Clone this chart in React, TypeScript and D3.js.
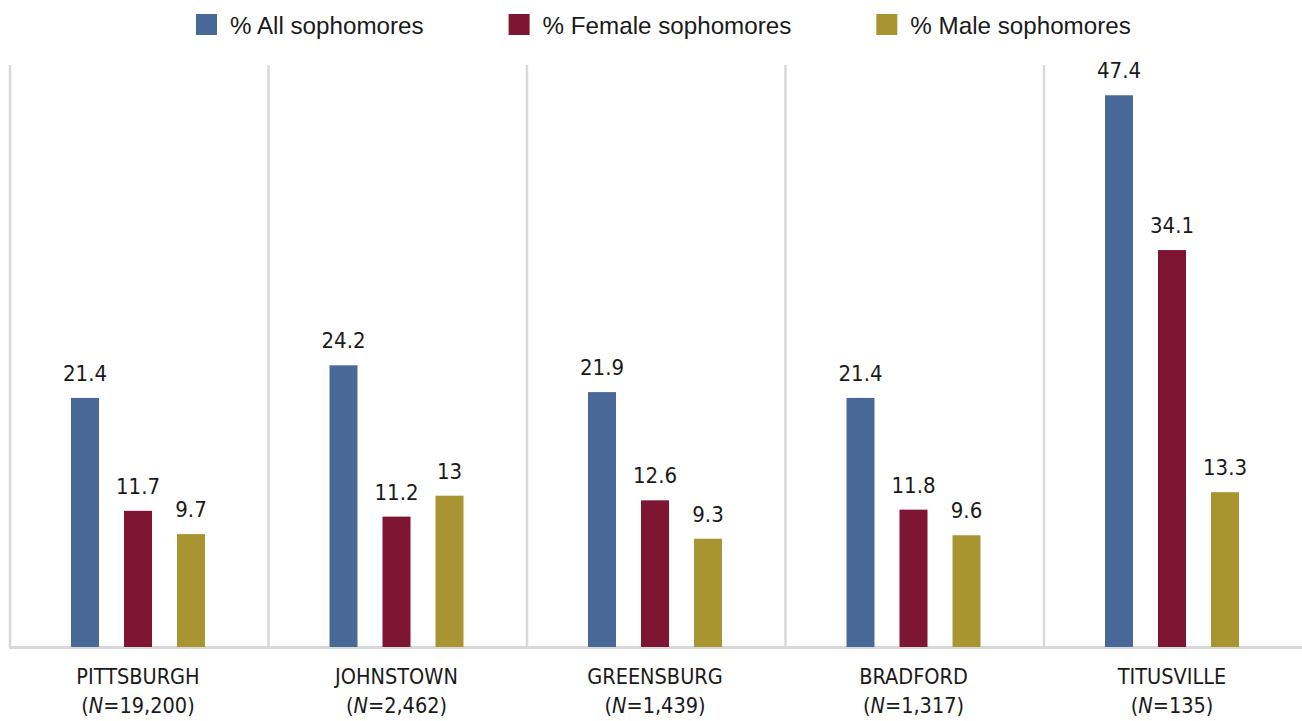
import React, { useEffect, useRef } from 'react';
import * as d3 from 'd3';

const campuses = ['PITTSBURGH', 'JOHNSTOWN', 'GREENSBURG', 'BRADFORD', 'TITUSVILLE'];
const sampleSizes = ['19,200', '2,462', '1,439', '1,317', '135'];
const seriesNames = ['% All sophomores', '% Female sophomores', '% Male sophomores'];
const allValues = [21.4, 24.2, 21.9, 21.4, 47.4];
const femaleValues = [11.7, 11.2, 12.6, 11.8, 34.1];
const maleValues = [9.7, 13, 9.3, 9.6, 13.3];
const seriesColors = ['#486997', '#7e1532', '#a89532'];

const W = 1302;
const H = 721;
const NARROW = '"Liberation Sans Narrow", "Arial Narrow", "DejaVu Sans Condensed", sans-serif';
const SANS = '"Liberation Sans", Arial, sans-serif';

export default function App() {
  const ref = useRef<SVGSVGElement>(null);

  useEffect(() => {
    const svg = d3.select(ref.current);
    svg.selectAll('*').remove();

    const left = 10, right = 1302.5, top = 65, base = 647;
    const x = d3.scaleBand().domain(campuses).range([left, right]).padding(0);
    const y = d3.scaleLinear().domain([0, 50]).range([base, top]);
    const inner = d3.scaleBand().domain(seriesNames).range([61, 195]).paddingInner(0.472);
    const series = [allValues, femaleValues, maleValues];

    // vertical separators
    svg.append('g').selectAll('line')
      .data(campuses)
      .enter().append('line')
      .attr('x1', d => x(d)!).attr('x2', d => x(d)!)
      .attr('y1', y(50)).attr('y2', base)
      .attr('stroke', '#d9d9d9').attr('stroke-width', 2.5);

    // baseline
    svg.append('line')
      .attr('x1', left - 1).attr('x2', W)
      .attr('y1', base + 0.5).attr('y2', base + 0.5)
      .attr('stroke', '#d9d9d9').attr('stroke-width', 3);

    seriesNames.forEach((name, si) => {
      const g = svg.append('g');
      g.selectAll('rect')
        .data(series[si])
        .enter().append('rect')
        .attr('x', (d, i) => x(campuses[i])! + inner(name)!)
        .attr('y', d => y(d))
        .attr('width', inner.bandwidth())
        .attr('height', d => base - y(d))
        .attr('fill', seriesColors[si]);
      g.selectAll('text')
        .data(series[si])
        .enter().append('text')
        .attr('x', (d, i) => x(campuses[i])! + inner(name)! + inner.bandwidth() / 2)
        .attr('y', d => y(d) - 17)
        .attr('text-anchor', 'middle')
        .attr('font-family', NARROW)
        .attr('font-size', 22)
        .attr('fill', '#1a1a1a')
        .text(d => String(d));
    });

    // category labels
    const cat = svg.append('g').selectAll('text')
      .data(campuses)
      .enter().append('text')
      .attr('text-anchor', 'middle')
      .attr('font-family', NARROW)
      .attr('font-size', 21.5)
      .attr('fill', '#1a1a1a');
    const cx = (d: string) => x(d)! + (inner.range()[0] + inner.range()[1]) / 2;
    cat.append('tspan').attr('x', cx).attr('y', 684).text(d => d);
    const second = cat.append('tspan').attr('x', cx).attr('y', 713);
    second.append('tspan').text('(');
    second.append('tspan').attr('font-style', 'italic').text('N');
    second.append('tspan').text((d, i) => '=' + sampleSizes[i] + ')');

    // legend
    const legend = svg.append('g');
    const items = legend.selectAll('g')
      .data(seriesNames)
      .enter().append('g');
    items.append('rect')
      .attr('width', 21).attr('height', 21)
      .attr('y', 14)
      .attr('fill', (d, i) => seriesColors[i]);
    items.append('text')
      .attr('x', 34).attr('y', 34)
      .attr('font-family', SANS)
      .attr('font-size', 24.2)
      .attr('fill', '#1a1a1a')
      .text(d => d);
    let pos = 196;
    items.each(function () {
      const node = this as SVGGElement;
      d3.select(node).attr('transform', `translate(${pos},0)`);
      const tw = (node.querySelector('text') as SVGTextElement).getComputedTextLength();
      pos += 34 + tw + 85;
    });
  }, []);

  return (
    <svg ref={ref} width={W} height={H} style={{ position: 'absolute', left: 0, top: 0, background: '#fff' }} />
  );
}
